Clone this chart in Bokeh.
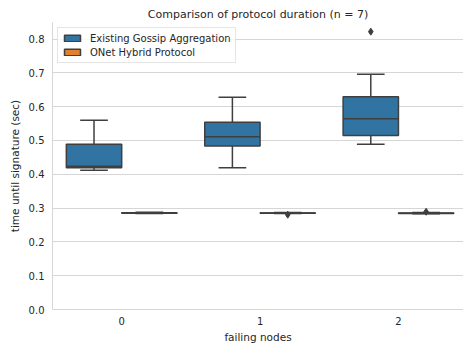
from bokeh.plotting import figure
from bokeh.models import Range1d, FixedTicker, ColumnDataSource, Legend, LegendItem, NumeralTickFormatter
from bokeh.embed import file_html
from bokeh.resources import INLINE

categories = ["0", "1", "2"]
hues = ["Existing Gossip Aggregation", "ONet Hybrid Protocol"]
colors = ["#3274a1", "#e1812c"]

gossip_q1 = [0.419, 0.484, 0.515]
gossip_med = [0.424, 0.511, 0.564]
gossip_q3 = [0.489, 0.554, 0.629]
gossip_lo = [0.412, 0.419, 0.489]
gossip_hi = [0.560, 0.628, 0.696]
gossip_out = [[], [], [0.822]]

onet_q1 = [0.2846, 0.2847, 0.2843]
onet_med = [0.2852, 0.2851, 0.2848]
onet_q3 = [0.2862, 0.2858, 0.2856]
onet_lo = [0.2838, 0.2842, 0.2836]
onet_hi = [0.2880, 0.2868, 0.2866]
onet_out = [[], [0.2805], [0.2892]]

yticks = [0.0, 0.1, 0.2, 0.3, 0.4, 0.5, 0.6, 0.7, 0.8]

FONT = "DejaVu Sans"
TXT = "#262626"
EDGE = "#3f3f3f"
GRID = "#d6d6d6"

p = figure(frame_width=411, frame_height=287, width=463, height=349,
           min_border_left=52, min_border_right=0, min_border_top=22, min_border_bottom=40,
           x_range=Range1d(-0.5, 2.47), y_range=Range1d(0.0, 0.849),
           output_backend="svg", toolbar_location=None,
           title="Comparison of protocol duration (n = 7)")
p.outline_line_color = None
p.background_fill_color = "white"
p.border_fill_color = "white"

p.title.align = "center"
p.title.text_font = FONT
p.title.text_font_size = "11px"
p.title.text_font_style = "normal"
p.title.text_color = TXT
p.title.standoff = 4

p.xgrid.grid_line_color = None
p.ygrid.grid_line_color = GRID
p.ygrid.grid_line_width = 1

p.xaxis.ticker = FixedTicker(ticks=list(range(len(categories))))
p.xaxis.major_label_overrides = {i: c for i, c in enumerate(categories)}
p.yaxis.ticker = FixedTicker(ticks=yticks)
p.yaxis.formatter = NumeralTickFormatter(format="0.0")
for ax in (p.xaxis[0], p.yaxis[0]):
    ax.axis_line_color = GRID
    ax.axis_line_width = 1
    ax.major_tick_line_color = None
    ax.minor_tick_line_color = None
    ax.major_tick_out = 0
    ax.major_tick_in = 0
    ax.minor_tick_out = 0
    ax.minor_tick_in = 0
    ax.major_label_text_font = FONT
    ax.major_label_text_font_size = "10px"
    ax.major_label_text_color = TXT
    ax.axis_label_text_font = FONT
    ax.axis_label_text_font_size = "10.5px"
    ax.axis_label_text_font_style = "normal"
    ax.axis_label_text_color = TXT
p.xaxis.axis_label = "failing nodes"
p.yaxis.axis_label = "time until signature (sec)"
p.xaxis.major_label_standoff = 7
p.yaxis.major_label_standoff = 8
p.xaxis.axis_label_standoff = 3
p.yaxis.axis_label_standoff = 5

box_w = 0.4
renderers = []
groups = [
    (gossip_q1, gossip_med, gossip_q3, gossip_lo, gossip_hi, gossip_out),
    (onet_q1, onet_med, onet_q3, onet_lo, onet_hi, onet_out),
]
for h, (q1, med, q3, lo, hi, out) in enumerate(groups):
    off = -box_w / 2 if h == 0 else box_w / 2
    xs = [i + off for i in range(len(categories))]
    src = ColumnDataSource(dict(
        x=xs, q1=q1, med=med, q3=q3, lo=lo, hi=hi,
        x0=[x - box_w / 2 for x in xs], x1=[x + box_w / 2 for x in xs],
        c0=[x - box_w / 4 for x in xs], c1=[x + box_w / 4 for x in xs],
    ))
    p.segment(x0="x", y0="q3", x1="x", y1="hi", source=src, line_color=EDGE, line_width=1.5)
    p.segment(x0="x", y0="q1", x1="x", y1="lo", source=src, line_color=EDGE, line_width=1.5)
    p.segment(x0="c0", y0="hi", x1="c1", y1="hi", source=src, line_color=EDGE, line_width=1.5)
    p.segment(x0="c0", y0="lo", x1="c1", y1="lo", source=src, line_color=EDGE, line_width=1.5)
    r = p.vbar(x="x", width=box_w, top="q3", bottom="q1", source=src,
               fill_color=colors[h], line_color=EDGE, line_width=1.5)
    renderers.append(r)
    p.segment(x0="x0", y0="med", x1="x1", y1="med", source=src, line_color=EDGE, line_width=1.5)
    ox, oy = [], []
    for i, vals in enumerate(out):
        for v in vals:
            ox.append(i + off)
            oy.append(v)
    if ox:
        p.scatter(x=ox, y=oy, marker="diamond", size=7, fill_color=EDGE, line_color=EDGE)

legend = Legend(items=[LegendItem(label=hues[i], renderers=[renderers[i]]) for i in range(2)],
                location="top_left")
legend.margin = 5
legend.padding = 4
legend.spacing = 2
legend.glyph_width = 20
legend.glyph_height = 8
legend.label_height = 12
legend.label_standoff = 8
legend.label_text_font = FONT
legend.label_text_font_size = "10px"
legend.label_text_color = TXT
legend.border_line_color = "#cccccc"
legend.border_line_width = 1
legend.background_fill_alpha = 0.8
p.add_layout(legend)

open("out.html", "w").write(file_html(p, INLINE))
